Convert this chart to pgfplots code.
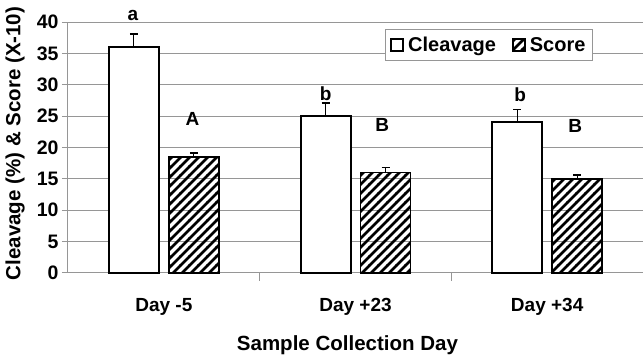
\documentclass[border=0pt]{standalone}
\usepackage{pgfplots}
\pgfplotsset{compat=1.18}
\usetikzlibrary{patterns}
\usepackage{fontspec}
\setmainfont{Liberation Sans}
\definecolor{gridgray}{RGB}{150,150,150}
\pgfdeclarepatternformonly{hatch}{\pgfqpoint{-1pt}{-1pt}}{\pgfqpoint{10pt}{10pt}}{\pgfqpoint{9pt}{9pt}}{%
  \pgfsetlinewidth{2.6pt}%
  \pgfpathmoveto{\pgfqpoint{-1pt}{-1pt}}%
  \pgfpathlineto{\pgfqpoint{10pt}{10pt}}%
  \pgfusepath{stroke}}
\begin{document}
\begin{tikzpicture}
\useasboundingbox (0,0) rectangle (643pt,356pt);
\begin{axis}[
  at={(68pt,83pt)}, anchor=south west,
  scale only axis, width=575pt, height=251pt,
  xmin=-0.5, xmax=2.5, ymin=0, ymax=40,
  clip=false,
  axis x line*=bottom, axis y line*=left,
  axis line style={gridgray, line width=1pt, -},
  ytick={0,5,...,40},
  ymajorgrids, grid style={gridgray, line width=1pt},
  major y tick style={gridgray, line width=1pt},
  xtick={0,1,2}, xticklabels={Day -5, Day +23, Day +34},
  major x tick style={draw=none},
  minor xtick={0.5,1.5},
  minor x tick style={gridgray, line width=1pt},
  tick align=outside, major tick length=6pt, minor tick length=8pt,
  /pgf/number format/assume math mode=true,
  yticklabel style={font=\bfseries\fontsize{19.5}{20}\selectfont},
  xticklabel style={font=\bfseries\fontsize{19}{20}\selectfont, yshift=-16pt},
  xlabel={Sample Collection Day},
  ylabel={Cleavage (\%) \& Score (X-10)},
  xlabel style={font=\bfseries\fontsize{20.5}{21}\selectfont, at={(axis description cs:0.486,-0.287)}, anchor=center},
  ylabel style={font=\bfseries\fontsize{20.5}{21}\selectfont, at={(axis description cs:-0.092,0.516)}, anchor=center},
  ybar=10pt, bar width=50pt,
  legend columns=2,
  legend style={at={(axis description cs:0.732,0.972)}, anchor=north, draw=gridgray, line width=1pt,
    font=\bfseries\fontsize{20}{21}\selectfont, inner xsep=5pt, inner ysep=5.5pt,
    /tikz/every even column/.append style={column sep=14pt}},
  legend image code/.code={\draw[#1, line width=1.6pt] (0pt,-6pt) rectangle (12pt,6pt); \path[draw=none, fill=none, pattern=none] (0pt,0pt) -- (15pt,0pt);},
  error bars/y dir=plus, error bars/y explicit,
  error bars/error mark options={rotate=90, mark size=4pt, line width=1.3pt, black},
  error bars/error bar style={line width=1.3pt, black},
]
\addplot[draw=black, line width=2pt, fill=white] coordinates {
  (0,36.0) +- (0,2.1)
  (1,25.0) +- (0,2.1)
  (2,24.0) +- (0,2.1)
};
\addplot[draw=black, line width=1.5pt, pattern=hatch] coordinates {
  (0,18.5) +- (0,0.6)
  (1,16.0) +- (0,0.8)
  (2,15.0) +- (0,0.6)
};
\legend{Cleavage, Score}
\node[font=\bfseries\fontsize{19}{20}\selectfont] at (axis cs:-0.161,41.1) {a};
\node[font=\bfseries\fontsize{19}{20}\selectfont] at (axis cs:0.150,24.5) {A};
\node[font=\bfseries\fontsize{19}{20}\selectfont] at (axis cs:0.844,28.6) {b};
\node[font=\bfseries\fontsize{19}{20}\selectfont] at (axis cs:1.140,23.6) {B};
\node[font=\bfseries\fontsize{19}{20}\selectfont] at (axis cs:1.859,28.4) {b};
\node[font=\bfseries\fontsize{19}{20}\selectfont] at (axis cs:2.146,23.4) {B};
\end{axis}
\end{tikzpicture}
\end{document}
